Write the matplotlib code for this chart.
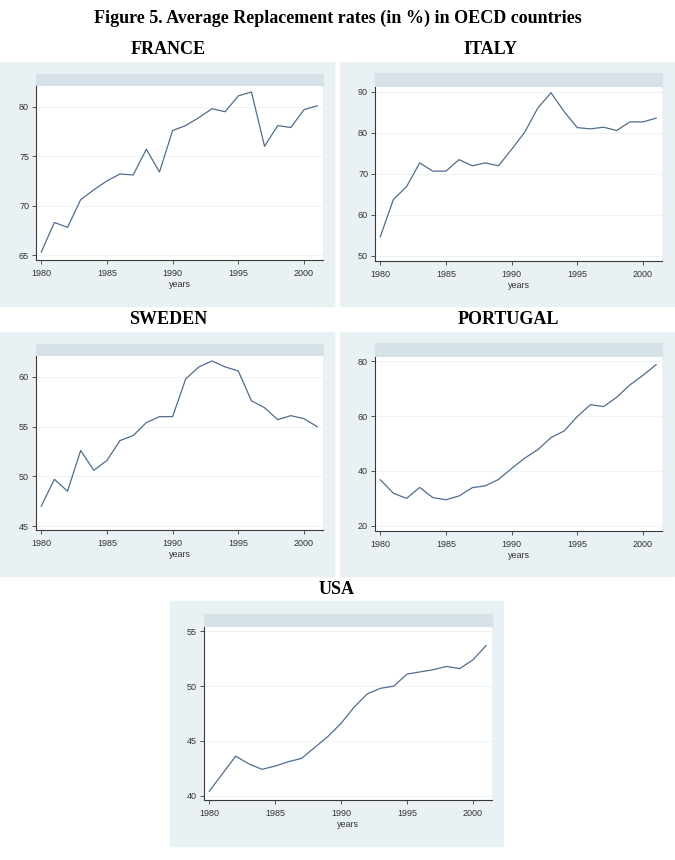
import matplotlib.pyplot as plt
from matplotlib.patches import Rectangle

W, H = 675, 860

years = list(range(1980, 2002))

france = [65.3, 68.3, 67.8, 70.6, 71.6, 72.5, 73.2, 73.1, 75.7, 73.4, 77.6,
          78.1, 78.9, 79.8, 79.5, 81.1, 81.5, 76.0, 78.1, 77.9, 79.7, 80.1]
italy = [54.6, 63.7, 66.8, 72.6, 70.6, 70.6, 73.4, 71.9, 72.6, 71.9, 75.9,
         80.1, 86.0, 89.7, 85.1, 81.2, 80.9, 81.3, 80.5, 82.6, 82.6, 83.5]
sweden = [47.0, 49.7, 48.5, 52.6, 50.6, 51.6, 53.6, 54.1, 55.4, 56.0, 56.0,
          59.8, 61.0, 61.6, 61.0, 60.6, 57.6, 56.9, 55.7, 56.1, 55.8, 55.0]
portugal = [36.8, 31.9, 30.0, 34.0, 30.3, 29.5, 30.9, 33.9, 34.6, 36.9, 40.9,
            44.7, 47.8, 52.2, 54.6, 59.9, 64.2, 63.5, 66.9, 71.4, 74.9, 78.8]
usa = [40.4, 42.0, 43.6, 42.9, 42.4, 42.7, 43.1, 43.4, 44.4, 45.4, 46.6,
       48.1, 49.3, 49.8, 50.0, 51.1, 51.3, 51.5, 51.8, 51.6, 52.4, 53.7]

x_ticks = [1980, 1985, 1990, 1995, 2000]

# name, values, y ticks, y limits, outer box (px), axes (px), header top (px), title pos (px)
panels = [
    ("FRANCE", france, [65, 70, 75, 80], (64.5, 82.1),
     (0, 62, 334, 306), (36, 86, 323, 260), 74, (168, 49)),
    ("ITALY", italy, [50, 60, 70, 80, 90], (48.7, 91.1),
     (340, 62, 674, 306), (375, 87, 662, 261), 73, (490, 49)),
    ("SWEDEN", sweden, [45, 50, 55, 60], (44.6, 62.1),
     (0, 332, 334, 576), (36, 356, 323, 530), 344, (168, 319)),
    ("PORTUGAL", portugal, [20, 40, 60, 80], (18.1, 81.6),
     (340, 332, 674, 576), (375, 357, 662, 531), 343, (508, 319)),
    ("USA", usa, [40, 45, 50, 55], (39.6, 55.4),
     (170, 601, 503, 846), (204, 627, 492, 800), 614, (337, 590)),
]

BOX = "#eaf1f4"
HEADER = "#d7e2e8"
LINE = "#4f6d8f"
SPINE = "#3a3a3a"


def rect(x0, y0, x1, y1):
    return [x0 / W, 1 - y1 / H, (x1 - x0) / W, (y1 - y0) / H]


fig = plt.figure(figsize=(W / 100, H / 100), dpi=100)
serif = ["Liberation Serif", "DejaVu Serif"]
sans = ["Liberation Sans", "DejaVu Sans"]

fig.text(0.5, 1 - 18 / H, "Figure 5. Average Replacement rates (in %) in OECD countries",
         ha="center", va="center", fontsize=13, fontweight="bold", family=serif)

for name, vals, yt, ylim, box, ax_px, head_top, title_xy in panels:
    bx0, by0, bx1, by1 = box
    fig.patches.append(Rectangle((bx0 / W, 1 - by1 / H), (bx1 - bx0) / W, (by1 - by0) / H,
                                 transform=fig.transFigure, color=BOX, zorder=-2))
    ax0, ay0, ax1, ay1 = ax_px
    fig.patches.append(Rectangle((ax0 / W, 1 - ay0 / H), (ax1 - ax0) / W, (ay0 - head_top) / H,
                                 transform=fig.transFigure, color=HEADER, zorder=-1))
    fig.text(title_xy[0] / W, 1 - title_xy[1] / H, name, ha="center", va="center",
             fontsize=13, fontweight="bold", family=serif)

    ax = fig.add_axes(rect(*ax_px), zorder=1)
    ax.set_facecolor("white")
    ax.plot(years, vals, color=LINE, lw=0.9, zorder=3)
    ax.set_xlim(1979.6, 2001.45)
    ax.set_ylim(*ylim)
    ax.set_xticks(x_ticks)
    ax.set_yticks(yt)
    ax.grid(axis="y", color="#eef3f5", lw=0.8, zorder=0)
    for s in ("top", "right"):
        ax.spines[s].set_visible(False)
    for s in ("left", "bottom"):
        ax.spines[s].set_color(SPINE)
        ax.spines[s].set_linewidth(0.8)
    ax.tick_params(length=3, width=0.6, color=SPINE, labelsize=6.5, pad=2,
                   labelcolor="#333333")
    ax.tick_params(axis="x", pad=3.5)
    for lab in ax.get_xticklabels() + ax.get_yticklabels():
        lab.set_family(sans)
    ax.set_xlabel("years", fontsize=6.5, family=sans, labelpad=1.5, color="#333333")

fig.savefig("out.png", dpi=100)
